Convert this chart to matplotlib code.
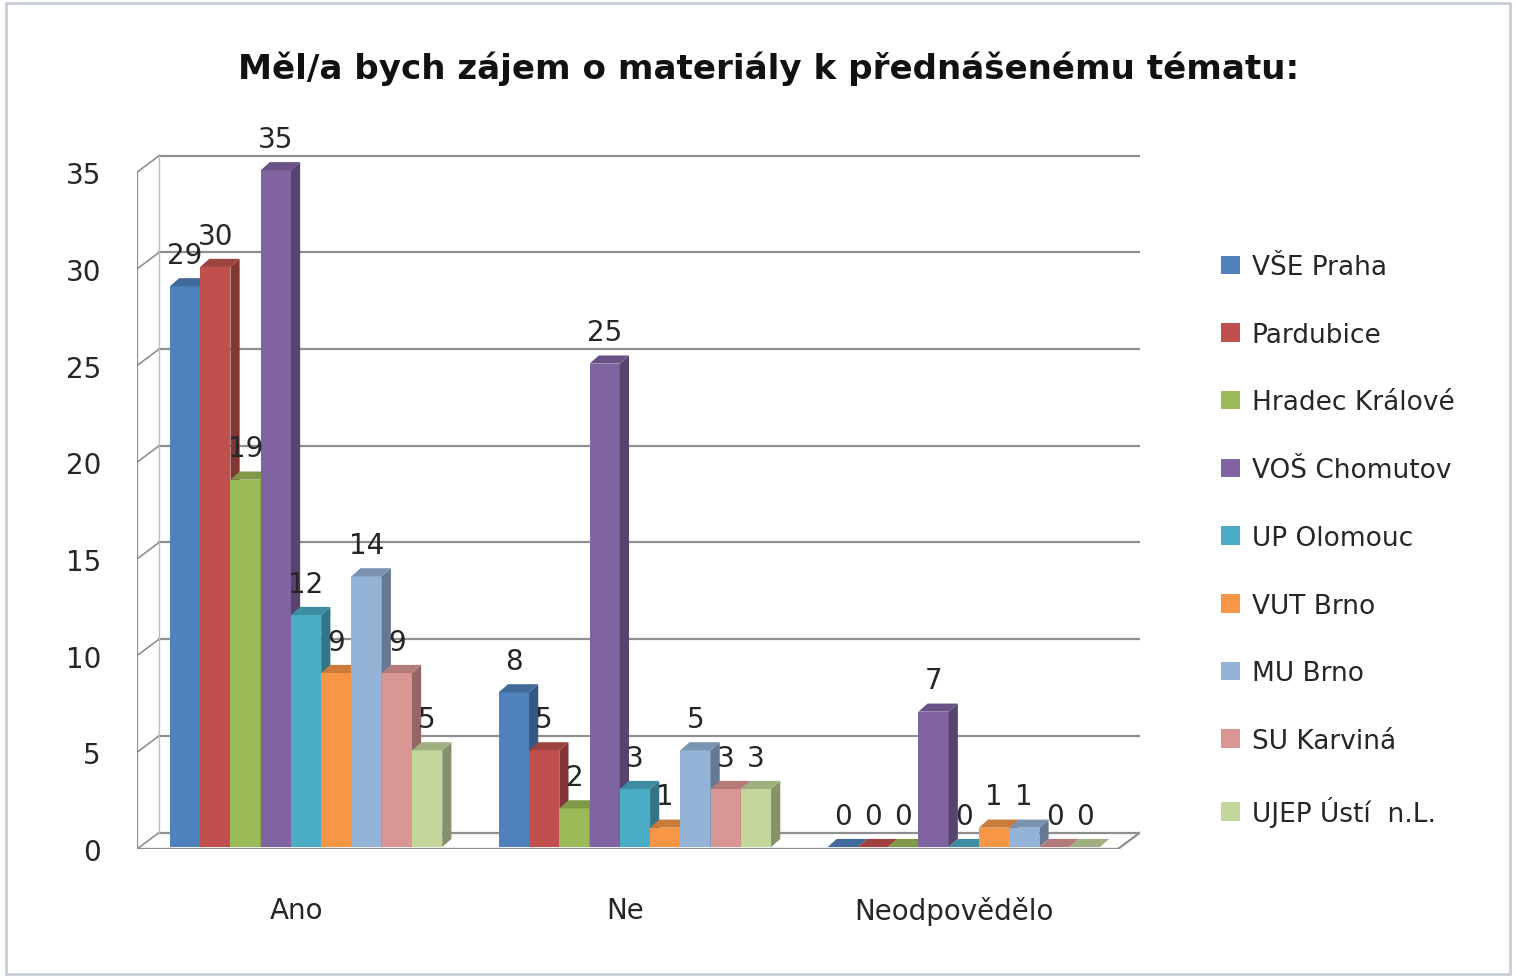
import matplotlib.pyplot as plt
import matplotlib.colors as mcolors
import numpy as np
from matplotlib.patches import Polygon

plt.rcParams["font.family"] = ["DejaVu Sans"]

categories = ["Ano", "Ne", "Neodpovědělo"]
schools = ["VŠE Praha", "Pardubice", "Hradec Králové", "VOŠ Chomutov", "UP Olomouc",
           "VUT Brno", "MU Brno", "SU Karviná", "UJEP Ústí  n.L."]
values = {
    "VŠE Praha": [29, 8, 0],
    "Pardubice": [30, 5, 0],
    "Hradec Králové": [19, 2, 0],
    "VOŠ Chomutov": [35, 25, 7],
    "UP Olomouc": [12, 3, 0],
    "VUT Brno": [9, 1, 1],
    "MU Brno": [14, 5, 1],
    "SU Karviná": [9, 3, 0],
    "UJEP Ústí  n.L.": [5, 3, 0],
}
colors = ["#4F81BD", "#C0504D", "#9BBB59", "#8064A2", "#4BACC6",
          "#F79646", "#95B3D7", "#D99694", "#C3D69B"]
yticks = [0, 5, 10, 15, 20, 25, 30, 35]

GRID = "#8f8f8f"
TEXT = "#262626"


def shade(c, f):
    r, g, b = mcolors.to_rgb(c)
    return (r * f, g * f, b * f)


fig = plt.figure(figsize=(15.16, 9.79), dpi=100)
fig.patch.set_facecolor("white")
ax = fig.add_axes([0.0904, 0.1318, 0.6616, 0.715])
ax.set_xlim(-0.5, 2.55)
ax.set_ylim(0, 36.2)

# pseudo 3d walls: back wall offset
wdx = 0.067
wdy = 0.85
x0, x1 = ax.get_xlim()
for t in yticks:
    ax.plot([x0 + wdx, x1], [t + wdy, t + wdy], color=GRID, lw=1.6, zorder=1)
    ax.plot([x0, x0 + wdx], [t, t + wdy], color=GRID, lw=1.2, zorder=1)
ax.plot([x0, x0], [0, yticks[-1]], color=GRID, lw=1.6, zorder=1)
ax.plot([x0 + wdx, x0 + wdx], [wdy, yticks[-1] + wdy], color="#bdbdbd", lw=1.0, zorder=1)
ax.plot([x0, x1 - wdx, x1], [0, 0, wdy], color=GRID, lw=1.6, zorder=1)

n = len(schools)
w = 0.092
dx = 0.028
dy = 0.42
x = np.arange(len(categories))

for i, s in enumerate(schools):
    c = colors[i]
    pos = x - (n - 1) / 2 * w + i * w + 0.014
    vals = values[s]
    ax.bar(pos, vals, width=w, bottom=0.1, color=c, edgecolor="none", zorder=3, label=s)
    for p, v in zip(pos, vals):
        h = v + 0.1
        side = Polygon([(p + w / 2, 0.1), (p + w / 2 + dx, 0.1 + dy), (p + w / 2 + dx, h + dy), (p + w / 2, h)],
                       closed=True, facecolor=shade(c, 0.68), edgecolor="none", zorder=3)
        top = Polygon([(p - w / 2, h), (p - w / 2 + dx, h + dy), (p + w / 2 + dx, h + dy), (p + w / 2, h)],
                      closed=True, facecolor=shade(c, 0.82), edgecolor="none", zorder=3)
        ax.add_patch(side)
        ax.add_patch(top)
        ax.text(p, h + 0.9, str(v), ha="center", va="bottom",
                fontsize=20, color=TEXT, zorder=4)

ax.set_yticks(yticks)
ax.set_yticklabels([str(t) for t in yticks], fontsize=20, color=TEXT)
ax.set_xticks(x - 0.015)
ax.set_xticklabels(categories, fontsize=20, color=TEXT)
ax.tick_params(axis="x", length=0, pad=34)
ax.tick_params(axis="y", length=0, pad=26)
for sp in ax.spines.values():
    sp.set_visible(False)

fig.text(0.507, 0.930, "Měl/a bych zájem o materiály k přednášenému tématu:", ha="center", va="center",
         fontsize=24.6, fontweight="bold", color="#111111")

handles, labels = ax.get_legend_handles_labels()
fig.legend(handles, labels, loc="center left", bbox_to_anchor=(0.79, 0.447), frameon=False,
           fontsize=19, handlelength=0.7, handleheight=0.7, labelspacing=1.58, handletextpad=0.45,
           labelcolor=TEXT)

frame = plt.Rectangle((0.004, 0.004), 0.992, 0.992, transform=fig.transFigure, fill=False,
                      edgecolor="#c8ced8", linewidth=2)
fig.patches.append(frame)

fig.savefig("out.png", dpi=100)
